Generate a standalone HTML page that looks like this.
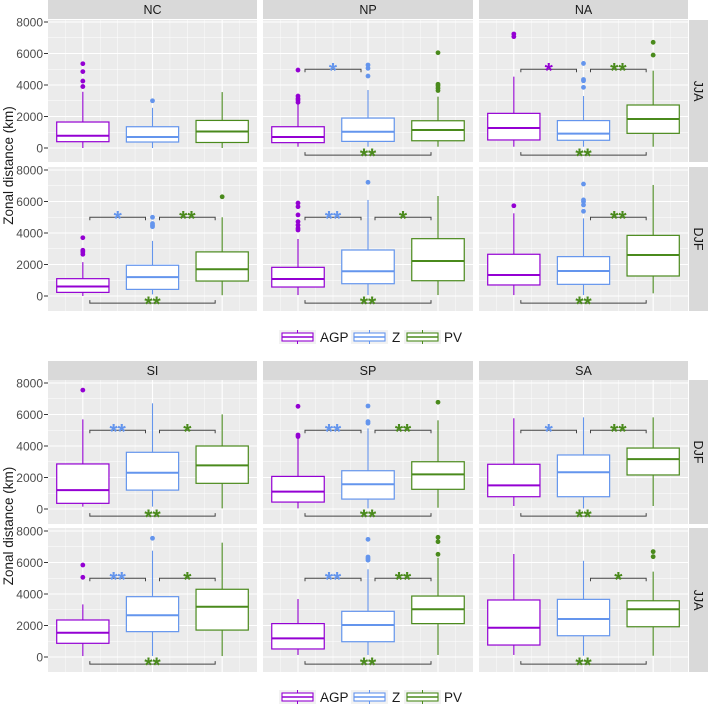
<!DOCTYPE html>
<html><head><meta charset="utf-8"><style>
html,body{margin:0;padding:0;background:#fff;}
svg{display:block;font-family:"Liberation Sans",sans-serif;}
</style></head><body>
<svg id="chart" width="708" height="706" viewBox="0 0 708 706"></svg>
<script>
// ---- data: [low whisker, q1, median, q3, high whisker] per group (AGP, Z, PV) ----
const groups = ["AGP","Z","PV"];
const colors = ["#9400d3","#6495ed","#4a8a1c"];
const yTicks = [0,2000,4000,6000,8000];
const NC_JJA = [[0,400,780,1650,3570],[0,380,700,1350,2550],[0,350,1050,1750,3550]];
const NC_JJA_out = [[3900,4250,4850,5350],[3000],[]];
const NP_JJA = [[80,340,700,1350,2840],[80,420,1030,1900,3680],[80,460,1140,1730,3260]];
const NP_JJA_out = [[2900,3050,3150,3300,4950],[4570,5060,5270],[3650,3800,3950,4050,6050]];
const NA_JJA = [[80,510,1270,2200,4530],[80,490,910,1740,3300],[80,930,1840,2730,4910]];
const NA_JJA_out = [[7070,7240],[3850,4270,4350,5370],[5900,6710]];
const NC_DJF = [[0,230,600,1100,2150],[100,420,1200,1950,3500],[50,950,1700,2800,5000]];
const NC_DJF_out = [[2650,2800,2900,3700],[4400,4500,4600,5000],[6300]];
const NP_DJF = [[60,570,1080,1820,3620],[60,780,1570,2920,6100],[60,970,2220,3640,6350]];
const NP_DJF_out = [[4190,4300,4500,4720,5150,5670,5900],[7220],[]];
const NA_DJF = [[60,700,1330,2650,5250],[60,740,1590,2500,4930],[170,1270,2600,3850,7050]];
const NA_DJF_out = [[5730],[5380,5780,5990,6100,7110],[]];
const SI_DJF = [[150,360,1200,2860,5690],[150,1200,2300,3600,6710],[40,1630,2770,4000,6010]];
const SI_DJF_out = [[7550],[],[]];
const SP_DJF = [[40,440,1100,2070,4490],[40,630,1570,2430,5120],[80,1250,2200,3000,5630]];
const SP_DJF_out = [[4600,4700,6520],[5450,5550,6540],[6780]];
const SA_DJF = [[190,780,1500,2840,5760],[40,780,2330,3430,5820],[190,2160,3170,3870,5820]];
const SA_DJF_out = [[],[],[]];
const SI_JJA = [[60,870,1540,2350,3340],[60,1610,2650,3830,6750],[60,1710,3190,4300,7260]];
const SI_JJA_out = [[5060,5840],[7540],[]];
const SP_JJA = [[130,510,1180,2120,3680],[130,970,2030,2900,5570],[130,2120,3030,3870,6300]];
const SP_JJA_out = [[],[6150,6250,6350,7470],[6520,7320,7600]];
const SA_JJA = [[130,760,1860,3620,6540],[80,1350,2410,3660,6110],[80,1920,3030,3570,5420]];
const SA_JJA_out = [[],[],[6370,6690]];
// brackets: [from, to, label, colourIndex]
const NC_JJA_br = [];
const NP_JJA_br = [[0,1,"*",1],[0,2,"**",2]];
const NA_JJA_br = [[0,1,"*",0],[1,2,"**",2],[0,2,"**",2]];
const NC_DJF_br = [[0,1,"*",1],[1,2,"**",2],[0,2,"**",2]];
const NP_DJF_br = [[0,1,"**",1],[1,2,"*",2],[0,2,"**",2]];
const NA_DJF_br = [[1,2,"**",2],[0,2,"**",2]];
const SI_DJF_br = [[0,1,"**",1],[1,2,"*",2],[0,2,"**",2]];
const SP_DJF_br = [[0,1,"**",1],[1,2,"**",2],[0,2,"**",2]];
const SA_DJF_br = [[0,1,"*",1],[1,2,"**",2],[0,2,"**",2]];
const SI_JJA_br = [[0,1,"**",1],[1,2,"*",2],[0,2,"**",2]];
const SP_JJA_br = [[0,1,"**",1],[1,2,"**",2],[0,2,"**",2]];
const SA_JJA_br = [[1,2,"*",2],[0,2,"**",2]];

const NS="http://www.w3.org/2000/svg";
const svg=document.getElementById('chart');
function mk(tag,attrs,parent,text){const e=document.createElementNS(NS,tag);for(const k in attrs)e.setAttribute(k,attrs[k]);if(text!==undefined)e.textContent=text;(parent||svg).appendChild(e);return e;}

const cols=[[48,257],[263,473],[479,688]];
const figs=[
 {colLabels:["NC","NP","NA"],rowLabels:["JJA","DJF"],stripY:0,
  rows:[{top:20,bot:162,y8:22,y0:148},{top:167,bot:311,y8:170,y0:296}],
  panels:[[[NC_JJA,NC_JJA_out,NC_JJA_br],[NP_JJA,NP_JJA_out,NP_JJA_br],[NA_JJA,NA_JJA_out,NA_JJA_br]],
          [[NC_DJF,NC_DJF_out,NC_DJF_br],[NP_DJF,NP_DJF_out,NP_DJF_br],[NA_DJF,NA_DJF_out,NA_DJF_br]]],legendY:337},
 {colLabels:["SI","SP","SA"],rowLabels:["DJF","JJA"],stripY:361,
  rows:[{top:380,bot:524,y8:383,y0:509},{top:528,bot:672,y8:531,y0:657}],
  panels:[[[SI_DJF,SI_DJF_out,SI_DJF_br],[SP_DJF,SP_DJF_out,SP_DJF_br],[SA_DJF,SA_DJF_out,SA_DJF_br]],
          [[SI_JJA,SI_JJA_out,SI_JJA_br],[SP_JJA,SP_JJA_out,SP_JJA_br],[SA_JJA,SA_JJA_out,SA_JJA_br]]],legendY:697}
];

figs.forEach((f,fi)=>{
 f.colLabels.forEach((lab,ci)=>{
  const s=mk('rect',{x:cols[ci][0],y:f.stripY,width:cols[ci][1]-cols[ci][0],height:19,fill:'#d9d9d9'});
  
  
  const t=mk('text',{x:(cols[ci][0]+cols[ci][1])/2,y:f.stripY+14,'text-anchor':'middle','font-size':12.5,fill:'#1a1a1a'},null,lab);
  
  
 });
 f.rows.forEach((r,ri)=>{
  const yS=v=>r.y0-v*(r.y0-r.y8)/8000;
  const rs=mk('rect',{x:689,y:r.top,width:19,height:r.bot-r.top,fill:'#d9d9d9'});
  
  
  const cy=(r.top+r.bot)/2;
  const rt=mk('text',{x:0,y:0,transform:`translate(694,${cy}) rotate(90)`,'text-anchor':'middle','font-size':12.5,fill:'#1a1a1a'},null,f.rowLabels[ri]);
  
  
  yTicks.forEach(v=>{
   const tl=mk('text',{x:43,y:yS(v)+4.5,'text-anchor':'end','font-size':12,fill:'#4d4d4d'},null,String(v));
   
   
   mk('line',{x1:44,x2:48,y1:yS(v),y2:yS(v),stroke:'#333','stroke-width':1});
  });
  cols.forEach((c,ci)=>{
   const g=mk('g',{});
   
   
   mk('rect',{x:c[0],y:r.top,width:c[1]-c[0],height:r.bot-r.top,fill:'#ebebeb'},g);
   const step=(c[1]-c[0])/3;
   const xC=i=>c[0]+step*(i+0.5);
   for(let v=1000;v<8000;v+=2000){mk('line',{x1:c[0],x2:c[1],y1:yS(v),y2:yS(v),stroke:'#fff','stroke-width':0.5},g);}
   for(let i=1;i<3;i++){const x=c[0]+step*i;mk('line',{x1:x,x2:x,y1:r.top,y2:r.bot,stroke:'#fff','stroke-width':0.5},g);}
   for(let i=0;i<3;i++){[-0.25,0.25].forEach(o=>{const x=xC(i)+o*step;mk('line',{x1:x,x2:x,y1:r.top,y2:r.bot,stroke:'#fff','stroke-width':0.4},g);});}
   yTicks.forEach(v=>mk('line',{x1:c[0],x2:c[1],y1:yS(v),y2:yS(v),stroke:'#fff','stroke-width':1.1},g));
   for(let i=0;i<3;i++)mk('line',{x1:xC(i),x2:xC(i),y1:r.top,y2:r.bot,stroke:'#fff','stroke-width':1.1},g);
   const [stats,outs,brs]=f.panels[ri][ci];
   const hw=step*0.375;
   stats.forEach((s,gi)=>{
    const col=colors[gi],x=xC(gi);
    const bg=mk('g',{},g);
    
    
    mk('line',{x1:x,x2:x,y1:yS(s[0]),y2:yS(s[1]),stroke:col,'stroke-width':1.1},bg);
    mk('line',{x1:x,x2:x,y1:yS(s[3]),y2:yS(s[4]),stroke:col,'stroke-width':1.1},bg);
    mk('rect',{x:x-hw,y:yS(s[3]),width:hw*2,height:yS(s[1])-yS(s[3]),fill:'#fff',stroke:col,'stroke-width':1.2},bg);
    mk('line',{x1:x-hw,x2:x+hw,y1:yS(s[2]),y2:yS(s[2]),stroke:col,'stroke-width':2},bg);
    outs[gi].forEach(v=>{
     const p=mk('circle',{cx:x,cy:yS(v),r:2.4,fill:col},bg);
     
     
    });
   });
   brs.forEach(b=>{
    const adj=(b[1]-b[0])===1;
    const v=adj?5000:-450;
    const y=yS(v);
    const xa=xC(b[0])+7,xb=xC(b[1])-7;
    const d=adj?3:-3;
    const bk=mk('path',{d:`M${xa},${y+d}V${y}H${xb}V${y+d}`,fill:'none',stroke:'#444','stroke-width':1},g);
    
    
    const st=mk('text',{x:(xa+xb)/2,y:y+8,'text-anchor':'middle','font-size':21,'font-weight':'bold',fill:colors[b[3]]},g,b[2]);
    
    
   });
  });
 });
 const ym=(f.rows[0].top+f.rows[1].bot)/2;
 const yt=mk('text',{x:0,y:0,transform:`translate(13,${ym}) rotate(-90)`,'text-anchor':'middle','font-size':13.5,fill:'#1a1a1a'},null,'Zonal distance (km)');
 
 
 const lg=mk('g',{});
 
 
 const keyX=[279,351,404],txtX=[320,392,444];
 groups.forEach((gname,gi)=>{
  const ly=f.legendY;
  const e=mk('g',{},lg);
  
  
  mk('rect',{x:keyX[gi],y:ly-7,width:37,height:14,fill:'#f2f2f2'},e);
  mk('line',{x1:keyX[gi]+18.5,x2:keyX[gi]+18.5,y1:ly-7,y2:ly+7,stroke:colors[gi],'stroke-width':1},e);
  mk('rect',{x:keyX[gi]+3,y:ly-4,width:31,height:8,fill:'#fff',stroke:colors[gi],'stroke-width':1.1},e);
  mk('line',{x1:keyX[gi]+3,x2:keyX[gi]+34,y1:ly,y2:ly,stroke:colors[gi],'stroke-width':1.5},e);
  mk('text',{x:txtX[gi],y:ly+5,'font-size':13.5,fill:'#1a1a1a'},e,gname);
 });
});
</script>
</body></html>
